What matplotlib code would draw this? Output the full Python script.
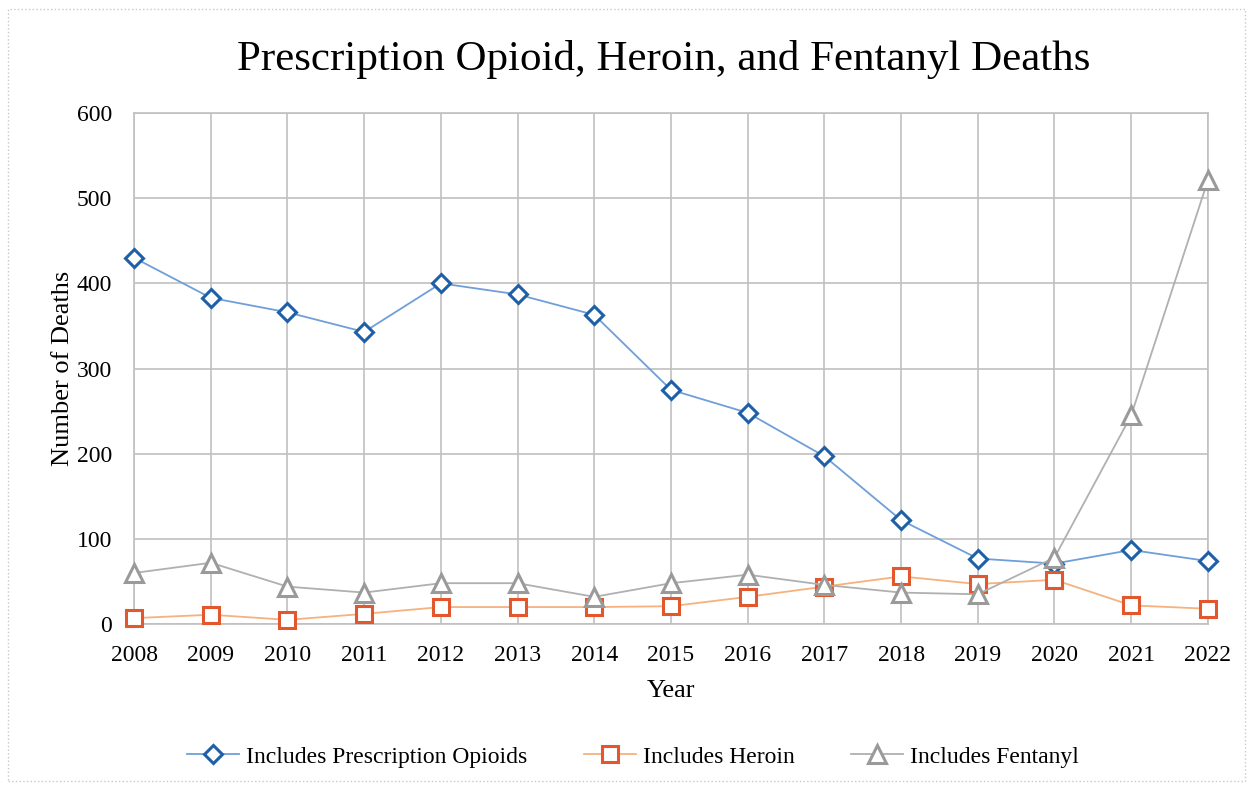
import numpy as np
import matplotlib.pyplot as plt
from matplotlib.patches import Rectangle

plt.rcParams['font.family'] = ['Liberation Serif', 'DejaVu Serif']

years = list(range(2008, 2023))
opioids = [430, 383, 366, 343, 400, 387, 363, 275, 248, 197, 122, 77, 71, 87, 74]
heroin = [7, 11, 5, 12, 20, 20, 20, 21, 32, 44, 56, 47, 52, 22, 18]
fentanyl = [60, 72, 44, 37, 48, 48, 32, 48, 58, 46, 37, 35, 78, 245, 521]

fig = plt.figure(figsize=(12.53, 7.9), dpi=100)
ax = fig.add_axes([0.107, 0.21, 0.857, 0.647])

ax.plot(years, opioids, color='#6F9FD8', lw=1.3, marker='D', ms=9.5,
        mfc='white', mec='#1F5FA8', mew=2.2, label='Includes Prescription Opioids',
        zorder=3, clip_on=False)
ax.plot(years, heroin, color='#F5B27E', lw=1.3, marker='s', ms=12,
        mfc='white', mec='#E2582C', mew=2.2, label='Includes Heroin',
        zorder=3, clip_on=False)
ax.plot(years, fentanyl, color='#B0B0B0', lw=1.3, marker='^', ms=13,
        mfc='white', mec='#9A9A9A', mew=2.2, label='Includes Fentanyl',
        zorder=3, clip_on=False)

ax.set_xlim(2008, 2022)
ax.set_ylim(0, 600)
ax.set_xticks(years)
ax.set_yticks(np.arange(0, 601, 100))
ax.grid(True, color='#C0C0C0', lw=1.2)
ax.tick_params(length=0, labelsize=17)
ax.tick_params(axis='x', pad=15)
ax.tick_params(axis='y', pad=16)
for s in ax.spines.values():
    s.set_color('#C0C0C0')
    s.set_linewidth(1.2)

ax.set_xlabel('Year', fontsize=19, labelpad=10)
ax.set_ylabel('Number of Deaths', fontsize=19, labelpad=2)
fig.text(0.53, 0.925, 'Prescription Opioid, Heroin, and Fentanyl Deaths',
         ha='center', va='center', fontsize=31)

fig.legend(loc='center', bbox_to_anchor=(0.505, 0.042), ncol=3, frameon=False,
           fontsize=17, columnspacing=2.4, handlelength=2.2, handletextpad=0.3)

# light outer border
fig.patches.append(Rectangle((0.006, 0.012), 0.988, 0.976, transform=fig.transFigure,
                             fill=False, ec='#C8C8C8', lw=1, ls=':'))

fig.savefig('out.png', dpi=100)
